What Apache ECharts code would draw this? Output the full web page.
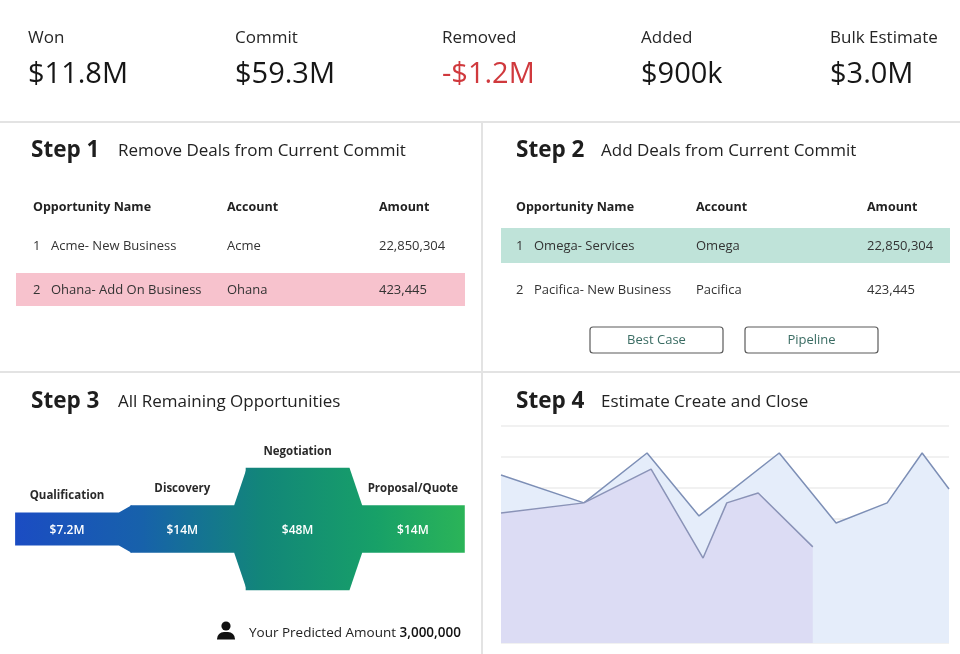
<!DOCTYPE html>
<html>
<head>
<meta charset="utf-8">
<script src="https://cdn.jsdelivr.net/npm/echarts@6/dist/echarts.min.js"></script>
<style>
html,body{margin:0;padding:0;background:#fff;}
#main{width:960px;height:654px;}
</style>
</head>
<body>
<div id="main"></div>
<script>
// ---- data ----
const kpiLabels = ['Won', 'Commit', 'Removed', 'Added', 'Bulk Estimate'];
const kpiValues = ['$11.8M', '$59.3M', '-$1.2M', '$900k', '$3.0M'];

const tableHeaders = ['Opportunity Name', 'Account', 'Amount'];
const removeNames = ['Acme- New Business', 'Ohana- Add On Business'];
const removeAccounts = ['Acme', 'Ohana'];
const removeAmounts = [22850304, 423445];
const addNames = ['Omega- Services', 'Pacifica- New Business'];
const addAccounts = ['Omega', 'Pacifica'];
const addAmounts = [22850304, 423445];
const buttons = ['Best Case', 'Pipeline'];

const stages = ['Qualification', 'Discovery', 'Negotiation', 'Proposal/Quote'];
const stageValues = [7.2, 14, 48, 14];
const stageLabels = ['$7.2M', '$14M', '$48M', '$14M'];
const predictedAmount = 3000000;

const createX = [0, 18.5, 32.6, 44.2, 62.1, 74.8, 86.2, 94.0, 100];
const createY = [54.2, 45.2, 61.3, 41.0, 61.3, 38.7, 45.2, 61.3, 49.7];
const closeX = [0, 18.5, 33.5, 45.1, 50.4, 57.4, 69.6];
const closeY = [41.9, 45.2, 56.1, 27.4, 45.2, 48.4, 31.0];

// ---- layout / styles ----
const FONT = '"Open Sans", "Noto Sans", sans-serif';
const fmt = n => n.toLocaleString('en-US');
const chart = echarts.init(document.getElementById('main'));
const g = [];

function txt(x, y, text, size, opts) {
  opts = opts || {};
  g.push({
    type: 'text', x: x, y: y, z: 10,
    style: {
      text: text,
      font: (opts.weight || 'normal') + ' ' + size + 'px ' + FONT,
      fill: opts.color || '#1c1c1c',
      align: opts.align || 'left',
      verticalAlign: 'middle'
    }
  });
}
function rect(x, y, w, h, fill, stroke, r) {
  g.push({
    type: 'rect', z: 1,
    shape: { x: x, y: y, width: w, height: h, r: r || 0 },
    style: { fill: fill || 'none', stroke: stroke || null, lineWidth: stroke ? 1.2 : 0 }
  });
}
function line(x1, y1, x2, y2, color, w) {
  g.push({ type: 'line', z: 2, shape: { x1, y1, x2, y2 }, style: { stroke: color, lineWidth: w || 1.5 } });
}

// KPIs
const kpiX = [28, 235, 442, 641, 830];
kpiLabels.forEach((l, i) => {
  txt(kpiX[i], 38, l, 17, { color: '#262626' });
  txt(kpiX[i], 75, kpiValues[i], 29, { color: kpiValues[i].startsWith('-') ? '#d0393d' : '#161616' });
});

// panel dividers
line(0, 122, 960, 122, '#e3e3e3', 2);
line(0, 372, 960, 372, '#e3e3e3', 2);
line(482, 122, 482, 654, '#e3e3e3', 2);

// step titles
function stepTitle(x, y, n, sub, subX) {
  txt(x, y, 'Step ' + n, 22.5, { weight: 'bold', color: '#1e1e1e' });
  txt(subX, y, sub, 17, { color: '#222' });
}
stepTitle(31, 151, 1, 'Remove Deals from Current Commit', 118);
stepTitle(516, 151, 2, 'Add Deals from Current Commit', 601);
stepTitle(31, 402, 3, 'All Remaining Opportunities', 118);
stepTitle(516, 402, 4, 'Estimate Create and Close', 601);

// tables
function table(cols, names, accounts, amounts, hiRect, hiColor) {
  rect(hiRect[0], hiRect[1], hiRect[2], hiRect[3], hiColor);
  tableHeaders.forEach((h, i) => txt(cols[i], 207, h, 12.5, { weight: 'bold', color: '#222' }));
  names.forEach((n, i) => {
    const y = 246 + i * 44;
    txt(cols[0], y, String(i + 1), 13, { color: '#333' });
    txt(cols[0] + 18, y, n, 13, { color: '#333' });
    txt(cols[1], y, accounts[i], 13, { color: '#333' });
    txt(cols[2], y, fmt(amounts[i]), 13, { color: '#333' });
  });
}
table([33, 227, 379], removeNames, removeAccounts, removeAmounts, [16, 273, 449, 33], '#f7c2cd');
table([516, 696, 867], addNames, addAccounts, addAmounts, [501, 228, 449, 35], '#bfe3d9');

// buttons
[[590, 327], [745, 327]].forEach((p, i) => {
  rect(p[0], p[1], 133, 26, '#fff', '#5b5b5b', 3);
  txt(p[0] + 66.5, p[1] + 13, buttons[i], 13, { color: '#3a6c63', align: 'center' });
});

// predicted amount
g.push({ type: 'circle', z: 5, shape: { cx: 226, cy: 626, r: 4.6 }, style: { fill: '#111' } });
g.push({ type: 'rect', z: 5, shape: { x: 217, y: 632, width: 18, height: 7.5, r: [7, 7, 0, 0] }, style: { fill: '#111' } });
g.push({
  type: 'text', x: 249, y: 633, z: 10,
  style: {
    text: '{a|Your Predicted Amount }{b|' + fmt(predictedAmount) + '}',
    verticalAlign: 'middle',
    rich: {
      a: { font: '13.5px ' + FONT, fill: '#222' },
      b: { font: '600 13.5px ' + FONT, fill: '#111' }
    }
  }
});

// funnel
const funnelData = stageValues.map((v, i) => [i, v]);
const PAD = 7.7;
const funnelFill = new echarts.graphic.LinearGradient(14, 0, 465, 0, [
  { offset: 0, color: '#1b4cc3' },
  { offset: 0.28, color: '#1761ab' },
  { offset: 0.55, color: '#128679' },
  { offset: 0.8, color: '#17a068' },
  { offset: 1, color: '#2bb458' }
], true);

chart.setOption({
  animation: false,
  backgroundColor: '#fff',
  graphic: g,
  grid: [
    { left: 9.35, width: 461.2, top: 441, height: 176 },
    { left: 501, width: 448, top: 426, height: 217 }
  ],
  xAxis: [
    { gridIndex: 0, type: 'value', min: -0.5, max: 3.5, show: false },
    { gridIndex: 1, type: 'value', min: 0, max: 100, show: false }
  ],
  yAxis: [
    { gridIndex: 0, type: 'value', min: -40, max: 40, show: false },
    {
      gridIndex: 1, type: 'value', min: 0, max: 70, interval: 10,
      axisLabel: { show: false }, axisLine: { show: false }, axisTick: { show: false },
      splitLine: { lineStyle: { color: '#ececec', width: 1.5 } }
    }
  ],
  series: [
    {
      type: 'custom', xAxisIndex: 0, yAxisIndex: 0, data: funnelData,
      renderItem: function (params, api) {
        const i = api.value(0), v = api.value(1);
        const h = (v + PAD) / 2;
        const c = (x, y) => api.coord([x, y]);
        let pts = [c(i - 0.45, h), c(i + 0.45, h)];
        if (i < stageValues.length - 1) {
          const hn = (stageValues[i + 1] + PAD) / 2;
          pts.push(c(i + 0.56, hn), c(i + 0.56, -hn));
        }
        pts.push(c(i + 0.45, -h), c(i - 0.45, -h));
        const top = c(i, h), mid = c(i, 0);
        return {
          type: 'group',
          children: [
            { type: 'polygon', shape: { points: pts }, style: { fill: funnelFill } },
            { type: 'text', style: { text: stages[i], x: top[0], y: top[1] - 16.5, align: 'center', verticalAlign: 'middle', font: 'bold 11.5px ' + FONT, fill: '#2a2a2a' } },
            { type: 'text', z2: 10, style: { text: stageLabels[i], x: mid[0], y: mid[1] + 1.5, align: 'center', verticalAlign: 'middle', font: '600 12px ' + FONT, fill: '#fff' } }
          ]
        };
      }
    },
    {
      type: 'line', xAxisIndex: 1, yAxisIndex: 1, symbol: 'none', z: 2,
      data: createX.map((x, i) => [x, createY[i]]),
      lineStyle: { color: '#7d8fb6', width: 1.5 },
      areaStyle: { color: '#e5edfa', opacity: 1 }
    },
    {
      type: 'line', xAxisIndex: 1, yAxisIndex: 1, symbol: 'none', z: 3,
      data: closeX.map((x, i) => [x, closeY[i]]),
      lineStyle: { color: '#8a93b7', width: 1.5 },
      areaStyle: { color: '#dcdcf4', opacity: 1 }
    }
  ]
});
</script>
</body>
</html>
